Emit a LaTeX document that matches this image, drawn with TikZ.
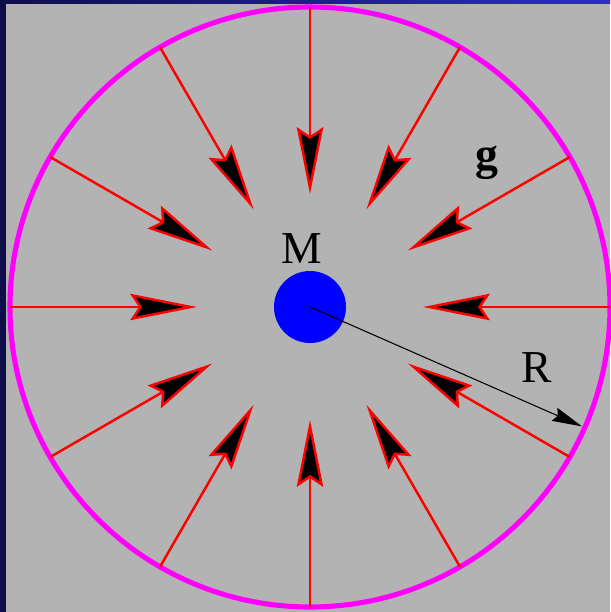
\documentclass[tikz,border=0pt]{standalone}
\usepackage{fontspec}
\setmainfont{Liberation Serif}
\usetikzlibrary{arrows.meta,calc}
\definecolor{panel}{RGB}{179,179,179}
\definecolor{frame}{RGB}{14,14,74}
\definecolor{framelight}{RGB}{44,44,205}
\definecolor{shell}{RGB}{255,0,255}
\tikzset{
  field/.style={red, line width=1.4pt, -{Stealth[length=38pt,width=15pt,inset=5pt,fill=black]}},
  rarrow/.style={black, line width=0.6pt, -{Stealth[length=17pt,width=8pt,inset=2pt]}},
  lbl/.style={font=\fontsize{26}{30}\selectfont, anchor=base, inner sep=0pt}
}
\begin{document}
\begin{tikzpicture}[x=0.02cm, y=-0.02cm]
\useasboundingbox (0,0) rectangle (610,612);
% frame and panel
\fill[frame] (0,0) rectangle (610,612);
\shade[left color=frame, right color=framelight] (0,0) rectangle (610,4);
\fill[panel] (6,4) rectangle (610,612);
\coordinate (c) at (310,307);
% sphere of radius R
\draw[shell, line width=2.9pt] (c) circle[radius=300];
% field lines pointing inward
\foreach \a in {0,30,...,330} {
  \coordinate (out\a) at ($(c)+(\a:300)$);
  \coordinate (in\a) at ($(c)+(\a:113)$);
  \draw[field] (out\a) -- (in\a);
}
% central mass
\node[circle, fill=blue, minimum size=72*0.02cm, inner sep=0pt] (mass) at (c) {};
\coordinate (rim) at ($(c)+(23.7:297)$);
\draw[rarrow] (c) -- (rim);
\node[lbl] (mlabel) at (302,263) {M};
\node[lbl] (rlabel) at (537,382) {R};
\node[lbl, font=\fontsize{26}{30}\selectfont\bfseries] (glabel) at (487,169) {g};
\end{tikzpicture}
\end{document}
